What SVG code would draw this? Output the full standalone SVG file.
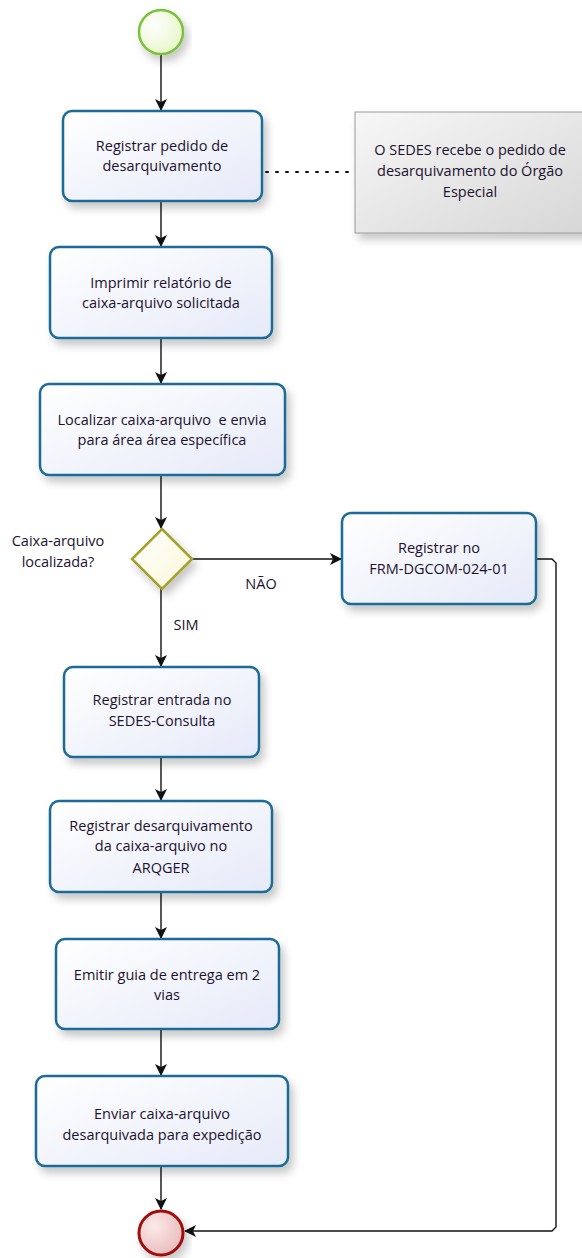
<svg xmlns="http://www.w3.org/2000/svg" width="582" height="1258" viewBox="0 0 582 1258">
  <defs>
    <linearGradient id="taskFill" x1="0" y1="0" x2="1" y2="1">
      <stop offset="0" stop-color="#ffffff"/>
      <stop offset="1" stop-color="#e6eaf8"/>
    </linearGradient>
    <linearGradient id="noteFill" x1="0" y1="0" x2="1" y2="1">
      <stop offset="0" stop-color="#f7f7f7"/>
      <stop offset="1" stop-color="#d6d6d6"/>
    </linearGradient>
    <radialGradient id="startFill" cx="0.35" cy="0.35" r="0.8">
      <stop offset="0" stop-color="#ffffff"/>
      <stop offset="1" stop-color="#e4f5c0"/>
    </radialGradient>
    <radialGradient id="endFill" cx="0.35" cy="0.35" r="0.8">
      <stop offset="0" stop-color="#fbeaea"/>
      <stop offset="1" stop-color="#e8b5b5"/>
    </radialGradient>
    <linearGradient id="gateFill" x1="0" y1="0" x2="1" y2="1">
      <stop offset="0" stop-color="#ffffff"/>
      <stop offset="1" stop-color="#fbf7d8"/>
    </linearGradient>
    <filter id="shadow" x="-10%" y="-10%" width="130%" height="140%">
      <feDropShadow dx="4" dy="6" stdDeviation="4" flood-color="#000" flood-opacity="0.22"/>
    </filter>
    <marker id="arrow" viewBox="0 0 12 12" refX="11" refY="6" markerWidth="12" markerHeight="12" markerUnits="userSpaceOnUse" orient="auto">
      <path d="M0,0 L12,6 L0,12 L3,6 Z" fill="#111"/>
    </marker>
    <style>
      .task { fill: url(#taskFill); stroke: #1d6b96; stroke-width: 2.5; filter: url(#shadow); }
      .note { fill: url(#noteFill); stroke: #9a9a9a; stroke-width: 1; filter: url(#shadow); }
      .label { font-family: "Open Sans", "Noto Sans", sans-serif; font-size: 14.5px; fill: #1c1230; text-anchor: middle; }
      .flow { fill: none; stroke: #111; stroke-width: 1.4; marker-end: url(#arrow); }
      .assoc { fill: none; stroke: #111; stroke-width: 2; stroke-dasharray: 2 8; stroke-linecap: round; }
    </style>
  </defs>

  <!-- sequence flows -->
  <g id="connectors">
    <path class="flow" d="M161,55 V110"/>
    <path class="flow" d="M161,202 V246"/>
    <path class="flow" d="M161,339 V383"/>
    <path class="flow" d="M161,476 V528"/>
    <path class="flow" d="M192,559 H341"/>
    <path class="flow" d="M161,589 V666"/>
    <path class="flow" d="M161,758 V800"/>
    <path class="flow" d="M161,893 V938"/>
    <path class="flow" d="M161,1030 V1075"/>
    <path class="flow" d="M161,1167 V1209"/>
    <path class="flow" d="M537,559 H552 L556,563 V1227 L552,1231 H185"/>
    <path class="assoc" d="M266,172 H350"/>
    <text class="label" x="261" y="589">NÃO</text>
    <text class="label" x="186" y="630">SIM</text>
  </g>

  <g id="start">
    <circle cx="161" cy="32" r="22" fill="url(#startFill)" stroke="#7cc13a" stroke-width="2.5" filter="url(#shadow)"/>
  </g>

  <g id="task-registrar-pedido">
    <rect class="task" x="63" y="111" width="199" height="90" rx="9"/>
    <text class="label" x="162" y="151">Registrar pedido de</text>
    <text class="label" x="162" y="171">desarquivamento</text>
  </g>

  <g id="note-sedes">
    <rect class="note" x="355" y="112" width="240" height="121"/>
    <text class="label" x="470" y="155">O SEDES recebe o pedido de</text>
    <text class="label" x="470" y="176">desarquivamento do Órgão</text>
    <text class="label" x="470" y="197">Especial</text>
  </g>

  <g id="task-imprimir">
    <rect class="task" x="50" y="247" width="222" height="91" rx="9"/>
    <text class="label" x="161" y="288">Imprimir relatório de</text>
    <text class="label" x="161" y="308">caixa-arquivo solicitada</text>
  </g>

  <g id="task-localizar">
    <rect class="task" x="40" y="384" width="245" height="91" rx="9"/>
    <text class="label" x="162" y="425" xml:space="preserve">Localizar caixa-arquivo  e envia</text>
    <text class="label" x="162" y="445">para área área específica</text>
  </g>

  <g id="gateway-localizada">
    <path d="M162,529 L192,559 L162,589 L132,559 Z" fill="url(#gateFill)" stroke="#a3a12b" stroke-width="2.5" filter="url(#shadow)"/>
    <text class="label" x="58" y="546">Caixa-arquivo</text>
    <text class="label" x="58" y="567">localizada?</text>
  </g>

  <g id="task-registrar-frm">
    <rect class="task" x="342" y="513" width="194" height="91" rx="9"/>
    <text class="label" x="439" y="553">Registrar no</text>
    <text class="label" x="439" y="574">FRM-DGCOM-024-01</text>
  </g>

  <g id="task-registrar-entrada">
    <rect class="task" x="64" y="667" width="195" height="90" rx="9"/>
    <text class="label" x="162" y="705">Registrar entrada no</text>
    <text class="label" x="162" y="726">SEDES-Consulta</text>
  </g>

  <g id="task-registrar-desarquivamento">
    <rect class="task" x="50" y="801" width="222" height="91" rx="9"/>
    <text class="label" x="161" y="831">Registrar desarquivamento</text>
    <text class="label" x="161" y="851">da caixa-arquivo no</text>
    <text class="label" x="161" y="873">ARQGER</text>
  </g>

  <g id="task-emitir-guia">
    <rect class="task" x="56" y="939" width="223" height="90" rx="9"/>
    <text class="label" x="167" y="980">Emitir guia de entrega em 2</text>
    <text class="label" x="167" y="1000">vias</text>
  </g>

  <g id="task-enviar">
    <rect class="task" x="36" y="1076" width="252" height="90" rx="9"/>
    <text class="label" x="162" y="1119">Enviar caixa-arquivo</text>
    <text class="label" x="162" y="1140">desarquivada para expedição</text>
  </g>

  <g id="end">
    <circle cx="161" cy="1233" r="22" fill="url(#endFill)" stroke="#a00f0f" stroke-width="3" filter="url(#shadow)"/>
  </g>
</svg>
